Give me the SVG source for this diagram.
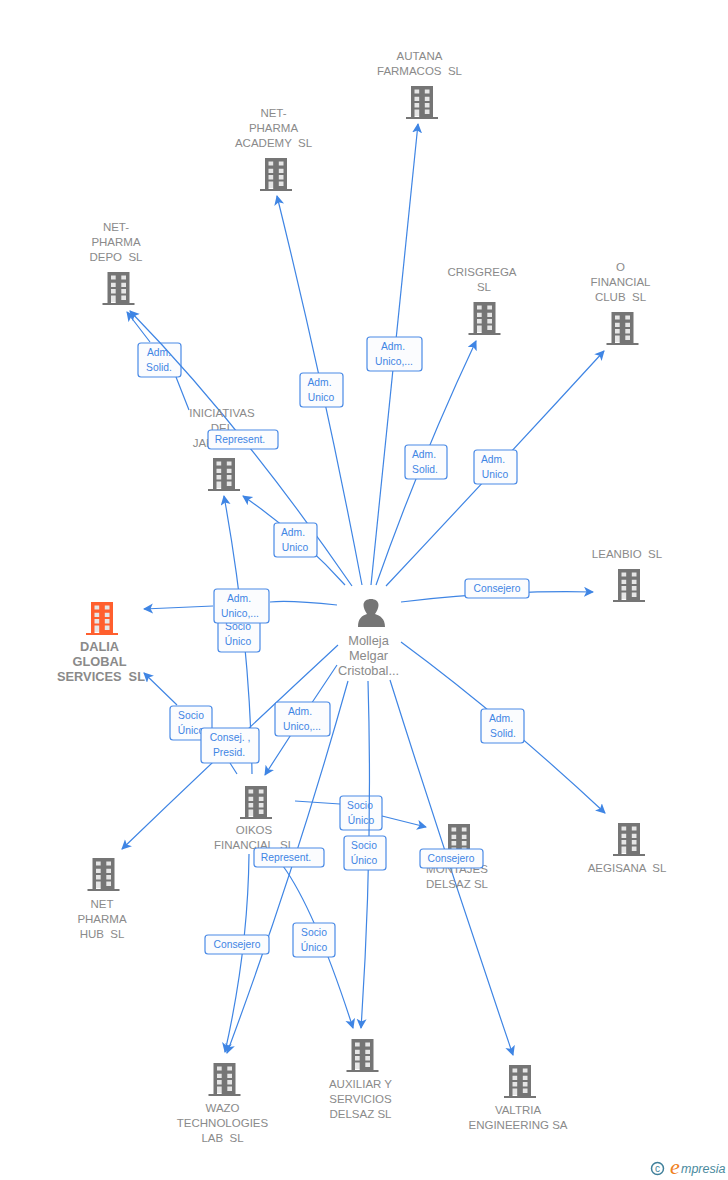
<svg xmlns="http://www.w3.org/2000/svg" width="728" height="1180" viewBox="0 0 728 1180">
<style>
text{font-family:"Liberation Sans",Arial,sans-serif;white-space:pre}
.n{font-size:11.500px;fill:#8a8a8a;text-anchor:middle}
.b{font-weight:bold;font-size:12.800px}
.p{font-size:12.800px}
.l{font-size:10.300px;fill:#3f85e4;text-anchor:middle}
.e{fill:none;stroke:#3f85e4;stroke-width:1.200}
.r{fill:#fbfcfe;stroke:#4a8ae6;stroke-width:1.200}
.a{fill:#757575}.o{fill:#ff5f2e}
</style>
<defs>
<marker id="h" markerUnits="userSpaceOnUse" markerWidth="12" markerHeight="12" refX="9" refY="5" orient="auto"><path d="M0 0L10 5L0 10L2.500 5Z" fill="#3f85e4"/></marker>
<g id="bd"><rect x="-10" y="-32" width="20" height="29" fill="#e6e6e6"/><path fill-rule="evenodd" d="M-11-33H11V-2H16V0H-16V-2H-11ZM-7.500-29.500V-25.500H-2.800V-29.500ZM2.800-29.500V-25.500H7.500V-29.500ZM-7.500-22.300V-18H-2.800V-22.300ZM2.800-22.300V-18H7.500V-22.300ZM-7.500-16V-11.500H-2.800V-16ZM2.800-16V-11.500H7.500V-16ZM-7.500-9.500V-2H-2.800V-9.500ZM2.800-9.500V-5H7.500V-9.500Z"/></g>
</defs>
<g id="labels-under">
<rect class="r" x="138" y="343" width="43" height="34" rx="3"/><text class="l"><tspan x="159" y="356">Adm.</tspan><tspan x="159" y="371">Solid.</tspan></text>
<rect class="r" x="340" y="796" width="42" height="34" rx="3"/><text class="l"><tspan x="360" y="809">Socio</tspan><tspan x="361" y="824">Único</tspan></text>
</g>
<g id="connectors">
<path class="e" marker-end="url(#h)" d="M371 585Q395 350 418 124"/>
<path class="e" marker-end="url(#h)" d="M362 585Q325 390 277 196"/>
<path class="e" marker-end="url(#h)" d="M352 586Q241 425 130 311"/>
<path class="e" marker-end="url(#h)" d="M189 410L176 377M150 342L127 312"/>
<path class="e" marker-end="url(#h)" d="M376 585Q420 460 476 341"/>
<path class="e" marker-end="url(#h)" d="M386 586Q495 470 604 351"/>
<path class="e" marker-end="url(#h)" d="M345 585Q300 535 243 496"/>
<path class="e" marker-end="url(#h)" d="M401 602Q500 590 593 592"/>
<path class="e" marker-end="url(#h)" d="M337 605Q290 600 270 602M213 606L144 609"/>
<path class="e" marker-end="url(#h)" d="M252 774Q250 640 224 496"/>
<path class="e" marker-end="url(#h)" d="M237 774L230 763M177 705L144 673"/>
<path class="e" marker-end="url(#h)" d="M338 645Q230 745 122 849"/>
<path class="e" marker-end="url(#h)" d="M337 665Q300 720 265 775"/>
<path class="e" marker-end="url(#h)" d="M401 642Q500 715 605 813"/>
<path class="e" marker-end="url(#h)" d="M295 801L340 804M382 816L426 827"/>
<path class="e" marker-end="url(#h)" d="M368 681Q373 850 361 1028"/>
<path class="e" marker-end="url(#h)" d="M390 680Q450 870 513 1055"/>
<path class="e" marker-end="url(#h)" d="M348 681Q295 870 227 1053"/>
<path class="e" marker-end="url(#h)" d="M249 854Q248 950 225 1052"/>
<path class="e" marker-end="url(#h)" d="M283 866Q315 910 353 1028"/>
</g>
<g id="n1"><use href="#bd" class="a" x="422" y="119"/><text class="n"><tspan x="419.500" y="60">AUTANA</tspan><tspan x="419.500" y="75">FARMACOS  SL</tspan></text></g>
<g id="n2"><use href="#bd" class="a" x="276" y="191"/><text class="n"><tspan x="273.500" y="117">NET-</tspan><tspan x="273.500" y="132">PHARMA</tspan><tspan x="273.500" y="147">ACADEMY  SL</tspan></text></g>
<g id="n3"><use href="#bd" class="a" x="118.500" y="305"/><text class="n"><tspan x="116" y="231">NET-</tspan><tspan x="116" y="246">PHARMA</tspan><tspan x="116" y="261">DEPO  SL</tspan></text></g>
<g id="n4"><use href="#bd" class="a" x="484.500" y="335"/><text class="n"><tspan x="482" y="276">CRISGREGA</tspan><tspan x="484" y="291">SL</tspan></text></g>
<g id="n5"><use href="#bd" class="a" x="622.500" y="345"/><text class="n"><tspan x="620.500" y="271">O</tspan><tspan x="620.500" y="286">FINANCIAL</tspan><tspan x="620.500" y="301">CLUB  SL</tspan></text></g>
<g id="n6"><use href="#bd" class="a" x="224" y="491"/><text class="n"><tspan x="222" y="417">INICIATIVAS</tspan><tspan x="222" y="432">DEL</tspan><tspan x="216" y="447">JARAMA</tspan></text></g>
<g id="n7"><use href="#bd" class="a" x="629" y="602"/><text class="n" x="627" y="558">LEANBIO  SL</text></g>
<g id="n8"><use href="#bd" class="o" x="102" y="635"/><text class="n b"><tspan x="99.500" y="651">DALIA</tspan><tspan x="99.500" y="666">GLOBAL</tspan><tspan x="101" y="681">SERVICES  SL</tspan></text></g>
<g id="n9"><use href="#bd" class="a" x="256" y="819"/><text class="n"><tspan x="254" y="834">OIKOS</tspan><tspan x="254" y="849">FINANCIAL  SL</tspan></text></g>
<g id="n10"><use href="#bd" class="a" x="103.500" y="891"/><text class="n"><tspan x="102" y="908">NET</tspan><tspan x="102" y="923">PHARMA</tspan><tspan x="102" y="938">HUB  SL</tspan></text></g>
<g id="n11"><use href="#bd" class="a" x="459" y="857"/><text class="n"><tspan x="457" y="873">MONTAJES</tspan><tspan x="457" y="888">DELSAZ SL</tspan></text></g>
<g id="n12"><use href="#bd" class="a" x="629" y="856"/><text class="n" x="627" y="872">AEGISANA  SL</text></g>
<g id="n13"><use href="#bd" class="a" x="224.500" y="1096"/><text class="n"><tspan x="222.500" y="1112">WAZO</tspan><tspan x="222.500" y="1127">TECHNOLOGIES</tspan><tspan x="222.500" y="1142">LAB  SL</tspan></text></g>
<g id="n14"><use href="#bd" class="a" x="362.500" y="1072"/><text class="n"><tspan x="360.500" y="1088">AUXILIAR Y</tspan><tspan x="360.500" y="1103">SERVICIOS</tspan><tspan x="360.500" y="1118">DELSAZ SL</tspan></text></g>
<g id="n15"><use href="#bd" class="a" x="520" y="1098"/><text class="n"><tspan x="518" y="1114">VALTRIA</tspan><tspan x="518" y="1129">ENGINEERING SA</tspan></text></g>
<g id="person"><path class="a" d="M358 627C358 618 362 616 367 614C365 611 363.500 608 363.500 605C363.500 601 367 599 371 599C375 599 378.500 601 378.500 605C378.500 608 377 611 375 614C380 616 385 618 385 627Z"/><text class="n p"><tspan x="368.500" y="645">Molleja</tspan><tspan x="368.500" y="660">Melgar</tspan><tspan x="368.500" y="675">Cristobal...</tspan></text></g>
<g id="labels">
<rect class="r" x="300" y="373" width="43" height="34" rx="3"/><text class="l"><tspan x="319.500" y="386">Adm.</tspan><tspan x="321" y="401">Unico</tspan></text>
<rect class="r" x="367" y="337" width="55" height="34" rx="3"/><text class="l"><tspan x="393" y="350">Adm.</tspan><tspan x="394" y="365">Unico,...</tspan></text>
<rect class="r" x="208" y="430" width="70" height="19" rx="3"/><text class="l" x="240" y="443">Represent.</text>
<rect class="r" x="405" y="445" width="42" height="34" rx="3"/><text class="l"><tspan x="424" y="458">Adm.</tspan><tspan x="425" y="473">Solid.</tspan></text>
<rect class="r" x="474" y="450" width="43" height="34" rx="3"/><text class="l"><tspan x="493" y="463">Adm.</tspan><tspan x="495" y="478">Unico</tspan></text>
<rect class="r" x="274" y="523" width="43" height="34" rx="3"/><text class="l"><tspan x="293" y="536">Adm.</tspan><tspan x="295" y="551">Unico</tspan></text>
<rect class="r" x="465" y="579" width="64" height="19" rx="3"/><text class="l" x="497" y="592">Consejero</text>
<rect class="r" x="218" y="618" width="42" height="34" rx="3"/><text class="l"><tspan x="238" y="630">Socio</tspan><tspan x="238" y="645">Único</tspan></text>
<rect class="r" x="214" y="589" width="55" height="34" rx="3"/><text class="l"><tspan x="239" y="602">Adm.</tspan><tspan x="240" y="617">Unico,...</tspan></text>
<rect class="r" x="170" y="706" width="42" height="34" rx="3"/><text class="l"><tspan x="191" y="719">Socio</tspan><tspan x="191" y="734">Único</tspan></text>
<rect class="r" x="275" y="702" width="55" height="34" rx="3"/><text class="l"><tspan x="300" y="715">Adm.</tspan><tspan x="302" y="730">Unico,...</tspan></text>
<rect class="r" x="201" y="728" width="58" height="35" rx="3"/><text class="l"><tspan x="230" y="741">Consej. ,</tspan><tspan x="229" y="756">Presid.</tspan></text>
<rect class="r" x="481" y="709" width="43" height="34" rx="3"/><text class="l"><tspan x="501" y="722">Adm.</tspan><tspan x="503" y="737">Solid.</tspan></text>
<rect class="r" x="344" y="836" width="42" height="34" rx="3"/><text class="l"><tspan x="364" y="849">Socio</tspan><tspan x="364" y="864">Único</tspan></text>
<rect class="r" x="254" y="848" width="70" height="19" rx="3"/><text class="l" x="286" y="861">Represent.</text>
<rect class="r" x="420" y="849" width="63" height="19" rx="3"/><text class="l" x="451" y="862">Consejero</text>
<rect class="r" x="205" y="935" width="64" height="19" rx="3"/><text class="l" x="237" y="948">Consejero</text>
<rect class="r" x="293" y="923" width="42" height="34" rx="3"/><text class="l"><tspan x="314" y="936">Socio</tspan><tspan x="314" y="951">Único</tspan></text>
</g>
<g id="logo"><circle cx="657.500" cy="1168.500" r="6" fill="none" stroke="#3f7f9a" stroke-width="1.500"/><text x="657.500" y="1172" font-size="10" fill="#3f7f9a" text-anchor="middle">c</text><text x="670" y="1174" font-size="22" font-style="italic" fill="#f08020" style="font-family:'Liberation Serif',serif">e</text><text x="681" y="1173" font-size="12.500" font-style="italic" fill="#4a8a9e">mpresia</text></g>
</svg>
